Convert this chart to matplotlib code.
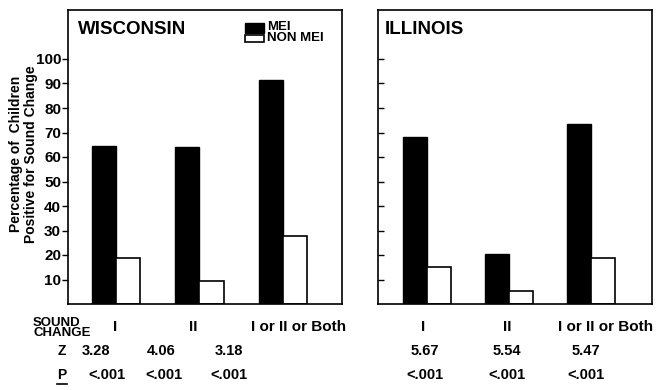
import numpy as np
import matplotlib
matplotlib.use("Agg")
import matplotlib.pyplot as plt
from matplotlib.lines import Line2D
from matplotlib.patches import Rectangle

plt.rcParams['font.family'] = ['Liberation Sans', 'DejaVu Sans']
plt.rcParams['font.weight'] = 'bold'

# data
states = ["WISCONSIN", "ILLINOIS"]
categories = ["I", "II", "I or II or Both"]
mei = [[64.5, 64, 91.4], [68.3, 20.4, 73.3]]
non_mei = [[18.7, 9.4, 27.9], [15.2, 5.3, 18.7]]
z_values = [["3.28", "4.06", "3.18"], ["5.67", "5.54", "5.47"]]
p_values = [["<.001", "<.001", "<.001"], ["<.001", "<.001", "<.001"]]
yticks = [10, 20, 30, 40, 50, 60, 70, 80, 90, 100]

W, H = 658, 390
fig = plt.figure(figsize=(W / 100, H / 100), dpi=100)

def fx(px):
    return px / W

def fy(py):
    return 1 - py / H

# axes placement (pixels)
panels = [(68, 342, (-0.575, 2.707)), (378, 652, (-0.6, 2.744))]
top, bottom = 10, 304
bw = 0.29
x = np.arange(len(categories))

axes = []
for i, (l, r, xl) in enumerate(panels):
    ax = fig.add_axes([fx(l), fy(bottom), fx(r - l), (bottom - top) / H])
    ax.bar(x - bw / 2, mei[i], bw, color="black", edgecolor="black", linewidth=1)
    ax.bar(x + bw / 2, non_mei[i], bw, color="white", edgecolor="black", linewidth=1.2)
    ax.set_xlim(*xl)
    ax.set_ylim(0, 120)
    ax.set_xticks([])
    ax.set_yticks(yticks)
    for s in ax.spines.values():
        s.set_linewidth(1.2)
    if i == 0:
        ax.tick_params(axis="y", direction="out", length=4, width=1, labelsize=11, pad=1)
        for t in ax.get_yticklabels():
            t.set_fontweight("bold")
    else:
        ax.tick_params(axis="y", direction="in", length=4, width=1, labelleft=False)
    ax.text(0.035 if i == 0 else 0.025, 0.935, states[i], transform=ax.transAxes,
            fontsize=13.5, fontweight="bold", va="center", ha="left")
    axes.append(ax)

# legend inside the left panel
fig.add_artist(Rectangle((fx(245), fy(33)), fx(19), 10 / H, facecolor="black",
                         edgecolor="black", lw=1, transform=fig.transFigure))
fig.add_artist(Rectangle((fx(245), fy(42)), fx(19), 7 / H, facecolor="white",
                         edgecolor="black", lw=1.2, transform=fig.transFigure))
fig.text(fx(267), fy(27), "MEI", fontsize=9.5, fontweight="bold", va="center")
fig.text(fx(267), fy(38), "NON MEI", fontsize=9.5, fontweight="bold", va="center")

# y label
fig.text(fx(16), fy(154), "Percentage of  Children", rotation=90, fontsize=10,
         fontweight="bold", ha="center", va="center")
fig.text(fx(31), fy(154), "Positive for Sound Change", rotation=90, fontsize=10,
         fontweight="bold", ha="center", va="center")

# bottom table
fig.text(fx(33), fy(328), "SOUND\nCHANGE", fontsize=9.5, fontweight="bold",
         ha="left", va="center", linespacing=0.85)
fig.text(fx(62), fy(351), "Z", fontsize=10, fontweight="bold", ha="center", va="center")
fig.text(fx(62), fy(375), "P", fontsize=10, fontweight="bold", ha="center", va="center")
fig.add_artist(Line2D([fx(57), fx(67)], [fy(384), fy(384)], color="black", lw=1.2,
                      transform=fig.transFigure))

# text centres in pixels
cat_x = [[115, 193, 299], [423, 507, 606]]
z_x = [[96, 161, 229], [425, 507, 586]]
p_x = [[107, 164, 229], [425, 507, 586]]
for i, ax in enumerate(axes):
    for j, cat in enumerate(categories):
        fig.text(fx(cat_x[i][j]), fy(327), cat, fontsize=11, fontweight="bold",
                 ha="center", va="center")
        fig.text(fx(z_x[i][j]), fy(351), z_values[i][j], fontsize=10.5,
                 fontweight="bold", ha="center", va="center")
        fig.text(fx(p_x[i][j]), fy(375), p_values[i][j], fontsize=10.5,
                 fontweight="bold", ha="center", va="center")

fig.savefig("out.png", dpi=100)
